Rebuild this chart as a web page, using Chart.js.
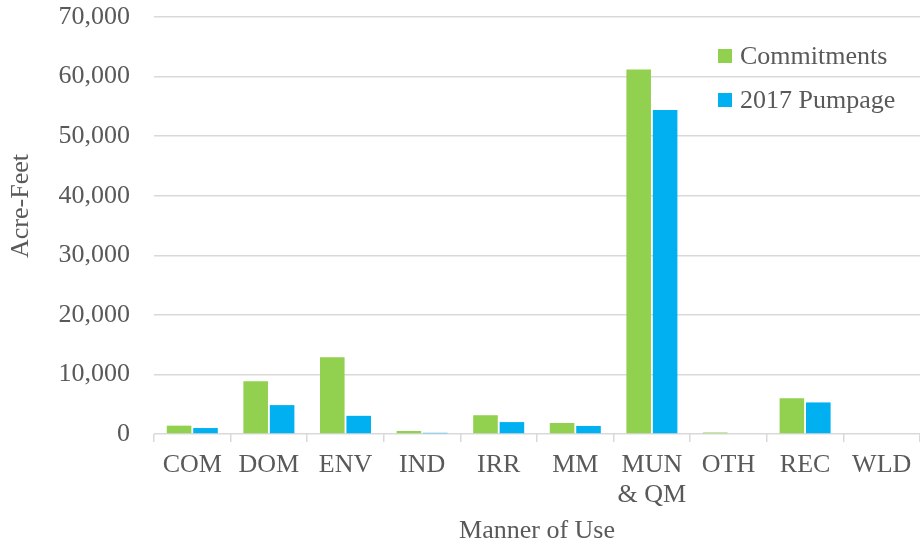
<!DOCTYPE html>
<html>
<head>
<meta charset="utf-8">
<script src="https://cdn.jsdelivr.net/npm/chart.js@4/dist/chart.umd.min.js"></script>
<style>
  html, body { margin: 0; padding: 0; background: #fff; }
  #wrap { width: 920px; height: 548px; }
</style>
</head>
<body>
<div id="wrap"><canvas id="useChart"></canvas></div>
<script>
// data
const categories = ["COM", "DOM", "ENV", "IND", "IRR", "MM", ["MUN", "& QM"], "OTH", "REC", "WLD"];
const commitments = [1400, 8850, 12900, 500, 3150, 1850, 61200, 250, 6000, 0];
const pumpage2017 = [1000, 4850, 3050, 200, 2000, 1350, 54400, 0, 5300, 0];
const yTicks = [0, 10000, 20000, 30000, 40000, 50000, 60000, 70000];

const textColor = "#595959";
const gridColor = "#d9d9d9";
const serif = "'Liberation Serif', 'Times New Roman', serif";

// legend drawn inside the plot, top right
const insideLegend = {
  id: "insideLegend",
  afterDraw(chart) {
    const ctx = chart.ctx;
    ctx.save();
    ctx.font = "26px " + serif;
    ctx.textBaseline = "alphabetic";
    ctx.textAlign = "left";
    chart.data.datasets.forEach((ds, i) => {
      const y = 56 + i * 44;
      ctx.fillStyle = ds.backgroundColor;
      ctx.fillRect(718, y - 7, 14, 14);
      ctx.fillStyle = textColor;
      ctx.fillText(ds.label, 740, y + 8);
    });
    ctx.restore();
  },
};

new Chart(document.getElementById("useChart").getContext("2d"), {
  type: "bar",
  data: {
    labels: categories,
    datasets: [
      {
        label: "Commitments",
        data: commitments,
        backgroundColor: "#92D050",
        categoryPercentage: 0.69,
        barPercentage: 0.93,
      },
      {
        label: "2017 Pumpage",
        data: pumpage2017,
        backgroundColor: "#00B0F0",
        categoryPercentage: 0.69,
        barPercentage: 0.93,
      },
    ],
  },
  options: {
    responsive: true,
    maintainAspectRatio: false,
    animation: false,
    layout: { padding: { top: 17, right: 0, left: 0, bottom: 0 } },
    plugins: {
      legend: { display: false },
      tooltip: { enabled: false },
    },
    scales: {
      x: {
        afterFit: (axis) => {
          axis.height = 548 - 434;
          axis.paddingLeft = 0;
          axis.paddingRight = 0;
        },
        grid: {
          display: true,
          drawOnChartArea: false,
          drawTicks: true,
          tickLength: 8,
          color: gridColor,
          lineWidth: 1.5,
          offset: true,
        },
        border: { display: false },
        ticks: {
          color: textColor,
          font: { family: serif, size: 26, lineHeight: 1.12 },
          padding: 9,
          maxRotation: 0,
          autoSkip: false,
        },
        title: {
          display: true,
          text: "Manner of Use",
          color: textColor,
          font: { family: serif, size: 26 },
          padding: { top: 0, bottom: 1 },
        },
      },
      y: {
        min: 0,
        max: 70000,
        afterFit: (axis) => {
          axis.width = 154;
          axis.paddingTop = 0;
          axis.paddingBottom = 0;
        },
        afterBuildTicks: (axis) => { axis.ticks = yTicks.map((v) => ({ value: v })); },
        grid: {
          color: gridColor,
          lineWidth: 1.5,
          drawTicks: false,
        },
        border: { display: false },
        ticks: {
          color: textColor,
          font: { family: serif, size: 26 },
          padding: 24,
          callback: (v) => v.toLocaleString("en-US"),
        },
        title: {
          display: true,
          text: "      Acre-Feet",
          color: textColor,
          font: { family: serif, size: 26 },
          padding: { top: 6, bottom: 0 },
        },
      },
    },
  },
  plugins: [insideLegend],
});
</script>
</body>
</html>
